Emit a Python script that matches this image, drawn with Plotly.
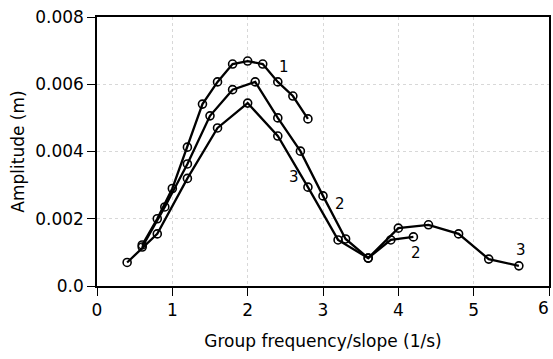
import plotly.graph_objects as go

x1 = [0.6, 0.8, 1.0, 1.2, 1.4, 1.6, 1.8, 2.0, 2.2, 2.4, 2.6, 2.8]
y1 = [0.00122, 0.00200, 0.00290, 0.00413, 0.00541, 0.00607, 0.00660, 0.00669, 0.00660, 0.00607, 0.00565, 0.00497]

x2 = [0.6, 0.9, 1.2, 1.5, 1.8, 2.1, 2.4, 2.7, 3.0, 3.3, 3.6, 3.9, 4.2]
y2 = [0.00116, 0.00235, 0.00363, 0.00506, 0.00584, 0.00607, 0.00500, 0.00401, 0.00268, 0.00140, 0.00083, 0.00137, 0.00146]

x3 = [0.4, 0.8, 1.2, 1.6, 2.0, 2.4, 2.8, 3.2, 3.6, 4.0, 4.4, 4.8, 5.2, 5.6]
y3 = [0.00070, 0.00155, 0.00320, 0.00470, 0.00544, 0.00446, 0.00294, 0.00137, 0.00083, 0.00172, 0.00182, 0.00155, 0.00080, 0.00060]

ytick_vals = [0.0, 0.002, 0.004, 0.006, 0.008]
ytick_text = ["0.0", "0.002", "0.004", "0.006", "0.008"]
xtick_vals = [0, 1, 2, 3, 4, 5, 6]

labels = [("1", 2.48, 0.00650), ("3", 2.62, 0.00325), ("2", 3.22, 0.00244),
          ("2", 4.23, 0.00098), ("3", 5.63, 0.00107)]

fig = go.Figure()
for xs, ys in [(x1, y1), (x2, y2), (x3, y3)]:
    fig.add_trace(go.Scatter(
        x=xs, y=ys, mode="lines+markers",
        line=dict(color="black", width=2.3),
        marker=dict(symbol="circle-open", size=8, color="black", line=dict(width=1.6)),
        showlegend=False, cliponaxis=False))

for t, lx, ly in labels:
    fig.add_annotation(x=lx, y=ly, text=t, showarrow=False,
                       font=dict(family="DejaVu Sans", size=15, color="#000000"))

axis_font = dict(family="DejaVu Sans", size=17, color="#000000")

# last tick label at the right edge of the page
fig.add_annotation(x=xtick_vals[-1], y=0, yref="paper", text=str(xtick_vals[-1]),
                   showarrow=False, yanchor="top", xanchor="right", xshift=2,
                   yshift=-10, font=axis_font)

fig.update_layout(
    width=553, height=359,
    margin=dict(l=97, r=2, t=17, b=73),
    paper_bgcolor="white", plot_bgcolor="white",
    font=axis_font,
    xaxis=dict(range=[0, 6], tickvals=xtick_vals, ticks="outside", ticklen=8,
               tickcolor="black", showline=True, linecolor="black", linewidth=1.5,
               mirror=True, showgrid=True, gridcolor="#d8d8d8", griddash="dot",
               gridwidth=1, zeroline=False,
               title=dict(text="Group frequency/slope (1/s)", font=axis_font, standoff=16),
               tickfont=axis_font),
    yaxis=dict(range=[0, 0.008], tickvals=ytick_vals, ticktext=ytick_text,
               ticks="outside", ticklen=8, tickcolor="black", showline=True,
               linecolor="black", linewidth=1.5, mirror=True, showgrid=True,
               gridcolor="#d8d8d8", griddash="dot", gridwidth=1, zeroline=False,
               title=dict(text="Amplitude (m)", font=axis_font, standoff=6),
               tickfont=axis_font),
)
fig.write_html("out.html")
